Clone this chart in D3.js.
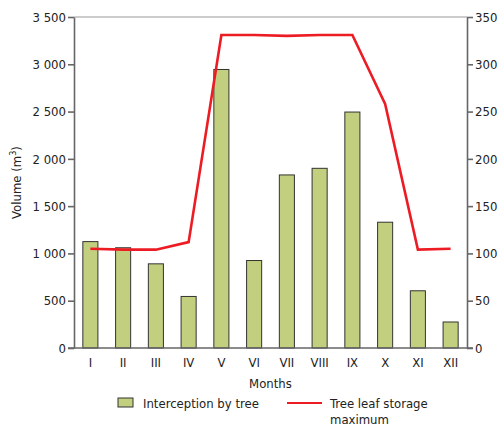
<!DOCTYPE html>
<html>
<head>
<meta charset="utf-8">
<script src="https://cdn.jsdelivr.net/npm/d3@7"></script>
<style>
body { margin: 0; background: #fff; }
text { font-family: "DejaVu Sans Condensed", "DejaVu Sans", sans-serif; font-stretch: condensed; fill: #222; }
</style>
</head>
<body>
<div class="vis"></div>
<script>
const months = ["I", "II", "III", "IV", "V", "VI", "VII", "VIII", "IX", "X", "XI", "XII"];
const interception = [1125, 1060, 890, 545, 2945, 925, 1830, 1900, 2495, 1330, 605, 275];
const leafStorage = [105, 104, 104, 112, 331, 331, 330, 331, 331, 258, 104, 105];
const leftTicks = [0, 500, 1000, 1500, 2000, 2500, 3000, 3500];
const rightTicks = [0, 50, 100, 150, 200, 250, 300, 350];

const W = 498, H = 430;
const m = { left: 74, right: 31, top: 17, bottom: 82 };
const w = W - m.left - m.right, h = H - m.top - m.bottom;
const fs = "13px";

const svg = d3.select(".vis").append("svg").attr("width", W).attr("height", H);
const g = svg.append("g").attr("transform", `translate(${m.left}, ${m.top})`);

const x = d3.scaleBand().domain(months).range([0, w]).paddingInner(0.54).paddingOuter(0.27);
const yL = d3.scaleLinear().domain([0, 3500]).range([h, 0]);
const yR = d3.scaleLinear().domain([0, 350]).range([h, 0]);

const fmt = d => d3.format(",")(d).replace(",", " ");

// top border
g.append("line").attr("x1", 0).attr("x2", w).attr("y1", 0).attr("y2", 0)
    .attr("stroke", "#999").attr("stroke-width", 1);

// bars
g.selectAll("rect.bar").data(interception).join("rect")
    .attr("class", "bar")
    .attr("x", (d, i) => x(months[i]))
    .attr("y", d => yL(d))
    .attr("width", x.bandwidth())
    .attr("height", d => h - yL(d))
    .attr("fill", "#c2cf7e")
    .attr("stroke", "#333")
    .attr("stroke-width", 1);

// line
const line = d3.line().x((d, i) => x(months[i]) + x.bandwidth() / 2).y(d => yR(d));
g.append("path").datum(leafStorage)
    .attr("d", line)
    .attr("fill", "none")
    .attr("stroke", "#ed1c24")
    .attr("stroke-width", 2.6);

// axes
const styleAxis = sel => {
    sel.selectAll("path, line").attr("stroke", "#666").attr("stroke-width", 1.6);
    sel.selectAll("text").style("font-size", fs).attr("fill", "#222");
};

g.append("g").attr("transform", `translate(0, ${h})`)
    .call(d3.axisBottom(x).tickSize(0).tickPadding(10))
    .call(styleAxis)
    .call(a => a.select(".domain").attr("d", `M-6,0H${w + 6}`));

g.append("g")
    .call(d3.axisLeft(yL).tickValues(leftTicks).tickFormat(fmt).tickSize(6).tickSizeOuter(0).tickPadding(2))
    .call(styleAxis);

g.append("g").attr("transform", `translate(${w}, 0)`)
    .call(d3.axisRight(yR).tickValues(rightTicks).tickSize(6).tickSizeOuter(0).tickPadding(2))
    .call(styleAxis);

// axis titles
const yt = svg.append("text")
    .attr("transform", `translate(21, ${m.top + h / 2}) rotate(-90)`)
    .attr("text-anchor", "middle")
    .style("font-size", fs);
yt.append("tspan").text("Volume (m");
yt.append("tspan").text("3").attr("dy", -5).style("font-size", "9px");
yt.append("tspan").text(")").attr("dy", 5);

svg.append("text").attr("x", m.left + w / 2).attr("y", 388)
    .attr("text-anchor", "middle").style("font-size", fs).text("Months");

// legend
svg.append("rect").attr("x", 118).attr("y", 398).attr("width", 15).attr("height", 9)
    .attr("fill", "#c2cf7e").attr("stroke", "#333").attr("stroke-width", 1);
svg.append("text").attr("x", 143).attr("y", 408).style("font-size", fs).text("Interception by tree");
svg.append("line").attr("x1", 287).attr("x2", 322).attr("y1", 403).attr("y2", 403)
    .attr("stroke", "#ed1c24").attr("stroke-width", 2);
svg.append("text").attr("x", 330).attr("y", 408).style("font-size", fs).text("Tree leaf storage");
svg.append("text").attr("x", 330).attr("y", 424).style("font-size", fs).text("maximum");
</script>
</body>
</html>
